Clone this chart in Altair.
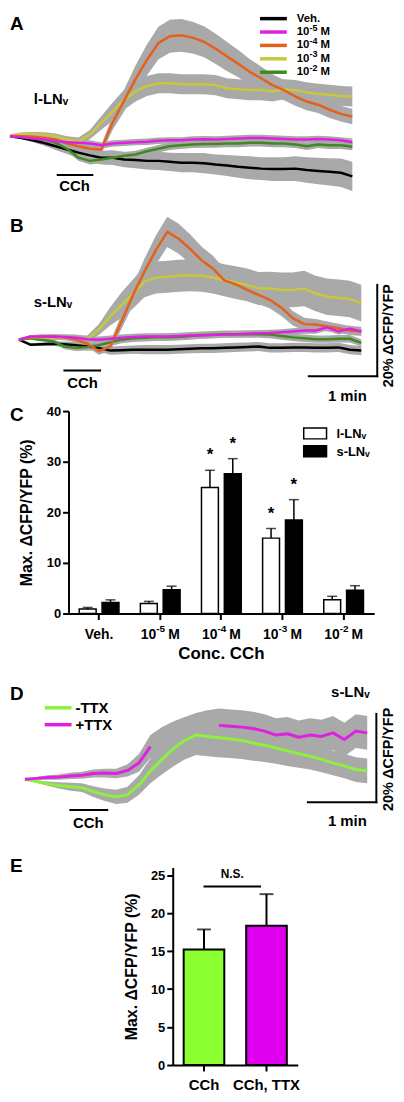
import altair as alt
import pandas as pd

FONT = "Liberation Sans"
W = 388
BAND = "#a9a9a9"

# time axis of the traces (s)
T = list(range(0, 301, 10))

# ---------------- Panel A : l-LNv traces (% dCFP/YFP) ----------------
A_VEH = [0, -0.4, -0.9, -1.5, -2.2, -2.9, -3.6, -4.2, -4.7, -4.7, -5.1, -5.2, -5.4, -5.4, -5.6, -5.8,
         -5.8, -5.9, -6.2, -6.4, -6.7, -6.9, -7.1, -7.2, -7.2, -7.1, -7.4, -7.6, -7.8, -8.0, -8.8]
A_VEH_SEM = [0, 0.2, 0.4, 0.6, 0.8, 1.0, 1.2, 1.4, 1.5, 1.6, 1.7, 1.8, 1.9, 2.0, 2.0, 2.1,
             2.1, 2.2, 2.2, 2.3, 2.4, 2.5, 2.5, 2.6, 2.6, 2.7, 2.8, 2.9, 3.0, 3.1, 3.2]
A_M5 = [0, -0.2, -0.5, -0.7, -1.1, -1.3, -1.45, -1.6, -2.0, -1.6, -1.45, -1.3, -1.2, -1.0, -0.9, -0.9,
        -0.7, -0.65, -0.7, -0.6, -0.5, -0.4, -0.4, -0.5, -0.6, -0.7, -0.7, -0.6, -0.7, -0.9, -1.3]
A_M5_SEM = [0, 0.2, 0.3, 0.4, 0.5, 0.6, 0.6, 0.7, 0.7, 0.7, 0.7, 0.7, 0.7, 0.7, 0.7, 0.7,
            0.7, 0.7, 0.7, 0.7, 0.7, 0.7, 0.7, 0.7, 0.7, 0.7, 0.7, 0.7, 0.7, 0.7, 0.8]
A_M4 = [0, 0, -0.1, -0.4, -0.7, -1.6, -2.2, -2.75, -2.9, 3.0, 7.8, 12.5, 16.7, 20.4, 21.9, 22.1,
        21.6, 20.7, 19.2, 17.5, 15.9, 14.1, 12.7, 11.2, 10.1, 8.7, 7.6, 6.9, 5.8, 4.9, 4.3]
A_M4_SEM = [0.2, 0.3, 0.4, 0.5, 0.6, 0.7, 0.8, 0.9, 1.0, 1.6, 2.4, 3.0, 3.4, 3.6, 3.6, 3.6,
            3.5, 3.4, 3.3, 3.2, 3.0, 2.8, 2.6, 2.4, 2.2, 2.0, 1.9, 1.8, 1.8, 1.7, 1.7]
A_M3 = [0.15, 0.5, 0.5, 0.35, 0, -0.7, -1.1, 0.35, 2.9, 5.4, 8.0, 9.8, 11.0, 11.6, 11.6, 11.4,
        11.4, 11.4, 11.2, 10.5, 10.3, 10.1, 10.1, 9.8, 10.3, 10.1, 9.6, 9.3, 9.1, 8.8, 8.7]
A_M3_SEM = [0.3, 0.3, 0.4, 0.5, 0.6, 0.7, 0.8, 1.0, 1.5, 2.0, 2.2, 2.2, 2.2, 2.2, 2.2, 2.2,
            2.2, 2.2, 2.2, 2.2, 2.2, 2.2, 2.2, 2.2, 2.2, 2.2, 2.2, 2.2, 2.2, 2.2, 2.2]
A_M2 = [0, -0.15, -0.4, -0.7, -1.45, -2.75, -4.7, -5.4, -5.1, -4.7, -4.3, -4.0, -3.3, -2.75, -2.2, -2.0,
        -1.8, -1.7, -1.7, -1.6, -1.6, -1.45, -1.45, -1.6, -1.6, -1.8, -2.2, -1.8, -2.0, -2.0, -2.3]
A_M2_SEM = [0.1, 0.2, 0.3, 0.4, 0.5, 0.6, 0.7, 0.8, 0.8, 0.8, 0.8, 0.8, 0.8, 0.8, 0.8, 0.8,
            0.8, 0.8, 0.8, 0.8, 0.8, 0.8, 0.8, 0.8, 0.8, 0.8, 0.8, 0.8, 0.8, 0.8, 0.8]

# ---------------- Panel B : s-LNv traces ----------------
B_VEH = [0, -1.1, -1.0, -0.9, -1.0, -1.2, -1.5, -1.8, -2.4, -2.3, -2.2, -2.2, -2.2, -2.2, -2.1, -2.0,
         -1.9, -1.9, -1.8, -1.7, -1.6, -1.5, -1.8, -1.8, -1.7, -1.7, -1.8, -1.8, -1.7, -2.2, -2.4]
B_VEH_SEM = [0, 0.3, 0.4, 0.5, 0.6, 0.7, 0.8, 0.8, 0.9, 0.9, 0.9, 1.0, 1.0, 1.0, 1.0, 1.0,
             1.0, 1.0, 1.0, 1.0, 1.0, 1.0, 1.0, 1.0, 1.0, 1.0, 1.0, 1.0, 1.0, 1.0, 1.0]
B_M5 = [0, 0.7, 0.7, 0.7, 0.6, 0.4, 0.1, 0.0, 0.2, 0.4, 0.6, 0.7, 0.7, 0.7, 0.8, 0.9,
        0.9, 1.0, 1.1, 1.2, 1.3, 1.4, 1.45, 1.6, 1.8, 2.0, 2.0, 2.7, 1.8, 2.4, 1.8]
B_M5_SEM = [0, 0.3, 0.4, 0.5, 0.6, 0.7, 0.7, 0.7, 0.7, 0.7, 0.7, 0.7, 0.7, 0.7, 0.7, 0.7,
            0.7, 0.7, 0.7, 0.7, 0.7, 0.7, 0.7, 0.7, 0.7, 0.7, 0.7, 0.7, 0.7, 0.7, 0.7]
B_M4 = [0, 0.5, 0.7, 0.65, 0.5, 0, -0.9, -2.5, -1.5, 4.0, 9.8, 14.9, 19.6, 23.6, 22.1, 19.9,
        17.4, 15.6, 13.0, 12.1, 10.9, 9.8, 8.7, 7.0, 4.7, 3.4, 3.3, 2.9, 2.5, 2.0, 1.8]
B_M4_SEM = [0.3, 0.4, 0.4, 0.5, 0.5, 0.6, 0.7, 0.8, 1.0, 1.6, 2.2, 2.8, 3.2, 3.3, 3.3, 3.2,
            3.0, 2.8, 2.6, 2.4, 2.2, 2.0, 1.9, 1.8, 1.6, 1.4, 1.2, 1.1, 1.0, 1.0, 1.0]
B_M3 = [0, 0.5, 0.6, 0.5, 0.35, 0.2, 0.2, 2.2, 5.1, 7.6, 10.0, 12.7, 13.6, 13.8, 14.0, 14.1,
        14.0, 13.6, 13.0, 12.5, 12.0, 11.2, 11.2, 10.9, 10.9, 11.2, 10.1, 9.4, 9.2, 8.9, 8.0]
B_M3_SEM = [0.3, 0.4, 0.4, 0.5, 0.5, 0.6, 0.7, 1.2, 2.0, 2.8, 3.2, 3.4, 3.5, 3.5, 3.5, 3.5,
            3.5, 3.5, 3.5, 3.6, 3.6, 3.6, 3.7, 3.8, 3.8, 3.9, 3.9, 4.0, 4.0, 4.0, 4.0]
B_M2 = [0, 0.3, 0.0, -0.4, -1.5, -1.8, -1.6, -1.2, -0.6, 0.0, 0.3, 0.4, 0.5, 0.5, 0.6, 0.8,
        1.0, 1.1, 1.2, 1.2, 1.2, 1.2, 1.1, 0.8, 0.5, 0.3, 0.1, 0.1, 0.2, 0.2, -0.7]
B_M2_SEM = [0.1, 0.3, 0.4, 0.5, 0.6, 0.7, 0.8, 0.8, 0.8, 0.8, 0.8, 0.8, 0.8, 0.8, 0.8, 0.8,
            0.8, 0.8, 0.8, 0.8, 0.8, 0.8, 0.8, 0.8, 0.8, 0.8, 0.8, 0.8, 0.8, 0.8, 0.8]

# legend / category labels: (base, superscript, suffix)
SERIES_LABELS = [("Veh.", "", ""), ("10", "-5", "M"), ("10", "-4", "M"), ("10", "-3", "M"), ("10", "-2", "M")]
SERIES_COLORS = ["#000000", "#e020e0", "#e5601a", "#c8c83c", "#3f8a1e"]
DRAW_ORDER = [0, 4, 3, 2, 1]

# ---------------- Panel C : max response bars ----------------
CONDS = ["Veh.", "1e-5", "1e-4", "1e-3", "1e-2"]
CELLS = ["l-LNᵥ", "s-LNᵥ"]
L_MEAN = [0.9, 2.0, 24.9, 14.9, 2.7]
L_SEM = [0.3, 0.4, 3.4, 1.9, 0.7]
S_MEAN = [2.2, 4.7, 27.6, 18.5, 4.6]
S_SEM = [0.5, 0.7, 3.0, 4.0, 0.9]
L_STAR = ["", "", "*", "*", ""]
S_STAR = ["", "", "*", "*", ""]

# ---------------- Panel D : s-LNv +/- TTX traces ----------------
D_NOTTX = [0, -0.5, -1.0, -1.4, -1.7, -1.9, -2.8, -3.5, -4.0, -3.5, -1.3, 1.9, 4.5, 6.9, 8.8, 10.0,
           9.7, 9.4, 9.1, 8.8, 8.2, 7.7, 7.1, 6.4, 5.8, 5.2, 4.5, 3.7, 3.0, 2.2, 1.9]
D_NOTTX_SEM = [0, 0.3, 0.5, 0.7, 0.9, 1.0, 1.2, 1.4, 1.6, 1.8, 2.2, 2.8, 3.4, 4.0, 4.3, 4.5,
               4.5, 4.4, 4.3, 4.2, 4.0, 3.8, 3.6, 3.4, 3.2, 3.0, 2.9, 2.8, 2.8, 2.8, 2.8]
D_TTX = [0, 0.2, 0.4, 0.5, 0.75, 0.9, 1.3, 1.4, 1.3, 2.0, 3.7, 7.4, 8.8, 9.8, 10.6, 11.3,
         11.8, 12.2, 12.0, 11.8, 11.5, 10.9, 10.0, 10.3, 9.5, 10.0, 9.7, 10.5, 9.0, 10.9, 10.5]
D_TTX_SEM = [0, 0.3, 0.5, 0.6, 0.7, 0.8, 0.9, 1.0, 1.1, 1.4, 2.0, 2.6, 3.0, 3.3, 3.5, 3.7,
             3.8, 3.8, 3.8, 3.8, 3.8, 3.8, 3.8, 3.8, 3.8, 3.8, 3.8, 3.8, 3.8, 3.8, 3.8]
D_TTX_HIDDEN = (115, 165)   # stretch where the +TTX trace is not visible
D_NAMES = ["-TTX", "+TTX"]
D_COLORS = ["#8cf03c", "#e020e0"]

# ---------------- Panel E ----------------
E_CONDS = ["CCh", "CCh, TTX"]
E_MEAN = [15.2, 18.35]
E_SEM = [2.65, 4.15]
E_COLORS = ["#8cff32", "#e000f0"]

ONE = pd.DataFrame({"k": [0]})


def text(s, x, y, size, align="left", baseline="alphabetic", angle=0):
    return alt.Chart(ONE).mark_text(
        text=s, font=FONT, fontWeight="bold", fontSize=size, align=align,
        baseline=baseline, angle=angle, color="black"
    ).encode(x=alt.value(x), y=alt.value(y))


def hrule(x1, x2, y, color="black", w=2.0):
    return alt.Chart(ONE).mark_rule(color=color, strokeWidth=w).encode(
        x=alt.value(x1), x2=alt.value(x2), y=alt.value(y))


def sup_label(lbl, x, y, size, sup_size):
    base, sup, suf = lbl
    out = [text(base, x, y, size, baseline="middle")]
    if sup:
        wb = 0.556 * size * len(base)
        out.append(text(sup, x + wb, y - 0.38 * size, sup_size, baseline="middle"))
        ws = (0.333 + 0.556) * sup_size
        out.append(text(suf, x + wb + ws + 0.28 * size, y, size, baseline="middle"))
    return out


def trace_layers(series, xs, ys, lw=2.5, hidden=None):
    bands, lines = [], []
    for name, color, mean, sem in series:
        df = pd.DataFrame({"t": T, "m": mean, "s": sem})
        df["lo"] = df["m"] - df["s"]
        df["hi"] = df["m"] + df["s"]
        bands.append(alt.Chart(df).mark_area(color=BAND, opacity=1).encode(
            x=alt.X("t:Q", scale=xs, axis=None),
            y=alt.Y("lo:Q", scale=ys, axis=None),
            y2="hi:Q"))
        ld = df.copy()
        ld["seg"] = 0
        if hidden is not None and name == hidden[0]:
            a, b = hidden[1]
            ld = ld[(ld["t"] < a) | (ld["t"] > b)].copy()
            ld["seg"] = (ld["t"] > b).astype(int)
        lines.append(alt.Chart(ld).mark_line(color=color, strokeWidth=lw, strokeJoin="round").encode(
            x=alt.X("t:Q", scale=xs, axis=None),
            y=alt.Y("m:Q", scale=ys, axis=None),
            detail="seg:N"))
    return bands + lines


def cch_bar(xs, t0, t1, ypx):
    df = pd.DataFrame({"t0": [t0], "t1": [t1]})
    return alt.Chart(df).mark_rule(color="black", strokeWidth=2).encode(
        x=alt.X("t0:Q", scale=xs, axis=None), x2="t1:Q", y=alt.value(ypx))


def scale_bar(xs, ys, t_end, v_bottom, dt=60, dv=20):
    df = pd.DataFrame({"ta": [t_end - dt], "tb": [t_end], "va": [v_bottom], "vb": [v_bottom + dv]})
    h = alt.Chart(df).mark_rule(color="black", strokeWidth=2, strokeCap="square").encode(
        x=alt.X("ta:Q", scale=xs, axis=None), x2="tb:Q",
        y=alt.Y("va:Q", scale=ys, axis=None))
    v = alt.Chart(df).mark_rule(color="black", strokeWidth=2, strokeCap="square").encode(
        x=alt.X("tb:Q", scale=xs, axis=None),
        y=alt.Y("va:Q", scale=ys, axis=None), y2="vb:Q")
    return [h, v]


# ===== Panel A =====
xsA = alt.Scale(domain=[0, 300], range=[0, 345])
ysA = alt.Scale(domain=[-10, 25], range=[168, 7])
A_DATA = [A_VEH, A_M5, A_M4, A_M3, A_M2]
A_SEMS = [A_VEH_SEM, A_M5_SEM, A_M4_SEM, A_M3_SEM, A_M2_SEM]
serA = [(str(i), SERIES_COLORS[i], A_DATA[i], A_SEMS[i]) for i in DRAW_ORDER]
layersA = trace_layers(serA, xsA, ysA)
legend_y = [3.5, 17, 30.5, 44, 57.5]
for i, lbl in enumerate(SERIES_LABELS):
    layersA.append(hrule(252, 279, legend_y[i], SERIES_COLORS[i], 3.5))
    layersA += sup_label(lbl, 289, legend_y[i], 11.5, 9)
layersA += [
    text("A", 0, 15, 19),
    text("l-LNᵥ", 24, 85, 15, baseline="middle"),
    cch_bar(xsA, 41, 73, 161),
    text("CCh", 65, 172.5, 15, align="center", baseline="middle"),
]
panelA = alt.layer(*layersA).properties(width=W, height=182)

# ===== Panel B =====
xsB = alt.Scale(domain=[0, 300], range=[9, 354])
ysB = alt.Scale(domain=[-10, 25], range=[191, 30])
B_DATA = [B_VEH, B_M5, B_M4, B_M3, B_M2]
B_SEMS = [B_VEH_SEM, B_M5_SEM, B_M4_SEM, B_M3_SEM, B_M2_SEM]
serB = [(str(i), SERIES_COLORS[i], B_DATA[i], B_SEMS[i]) for i in DRAW_ORDER]
layersB = trace_layers(serB, xsB, ysB)
layersB += scale_bar(xsB, ysB, 314, -8)
layersB += [
    text("B", 0, 37, 19),
    text("s-LNᵥ", 24, 107, 15, baseline="middle"),
    cch_bar(xsB, 39, 72, 176),
    text("CCh", 73, 189, 15, align="center", baseline="middle"),
    text("1 min", 340, 202, 15, align="center", baseline="middle"),
    text("20% ΔCFP/YFP", 382, 141, 14.5, align="center", baseline="middle", angle=270),
]
panelB = alt.layer(*layersB).properties(width=W, height=210)

# ===== Panel C =====
rows = []
for i, c in enumerate(CONDS):
    rows.append(dict(cond=c, cell=CELLS[0], mean=L_MEAN[i], sem=L_SEM[i], star=L_STAR[i]))
    rows.append(dict(cond=c, cell=CELLS[1], mean=S_MEAN[i], sem=S_SEM[i], star=S_STAR[i]))
dfc = pd.DataFrame(rows)
dfc["hi"] = dfc["mean"] + dfc["sem"]

axC_x = alt.Axis(title="", labels=False, offset=-51)
axC_y = alt.Axis(title="Max. ΔCFP/YFP (%)", values=[0, 10, 20, 30, 40], offset=-59,
                 labelPadding=2, titlePadding=12, labelFontSize=13, titleFontSize=16)
scC_x = alt.Scale(domain=CONDS, range=[59, 367], paddingInner=0.35, paddingOuter=0.175)
scC_xo = alt.Scale(domain=CELLS, paddingInner=0.26, paddingOuter=0)
scC_y = alt.Scale(domain=[0, 40], range=[211, 7])
xC = alt.X("cond:N", sort=CONDS, scale=scC_x, axis=axC_x)
xoC = alt.XOffset("cell:N", sort=CELLS, scale=scC_xo)

barsC = alt.Chart(dfc).mark_bar(stroke="black", strokeWidth=1.5).encode(
    x=xC, xOffset=xoC,
    y=alt.Y("mean:Q", scale=scC_y, axis=axC_y),
    fill=alt.Fill("cell:N", scale=alt.Scale(domain=CELLS, range=["white", "black"]), legend=None))
errC = alt.Chart(dfc).mark_rule(color="black", strokeWidth=1.5).encode(
    x=xC, xOffset=xoC, y=alt.Y("mean:Q", scale=scC_y, axis=axC_y), y2="hi:Q")
capC = alt.Chart(dfc).mark_tick(color="black", thickness=1.5, size=10).encode(
    x=xC, xOffset=xoC, y=alt.Y("hi:Q", scale=scC_y, axis=axC_y))
starC = alt.Chart(dfc).mark_text(font=FONT, fontWeight="bold", fontSize=17, baseline="middle",
                                 dy=-15, color="black").encode(
    x=xC, xOffset=xoC, y=alt.Y("hi:Q", scale=scC_y, axis=axC_y), text="star:N")

# category labels with real superscripts
lab = pd.DataFrame({"cond": CONDS,
                    "base": [l[0] for l in SERIES_LABELS],
                    "sup": [l[1] for l in SERIES_LABELS],
                    "suf": [l[2] for l in SERIES_LABELS]})
lab_plain = lab[lab["sup"] == ""]
lab_sup = lab[lab["sup"] != ""]
LAB_Y = 233


def cat_text(df, field, dx, dy, size, align):
    return alt.Chart(df).mark_text(font=FONT, fontWeight="bold", fontSize=size, align=align,
                                   baseline="middle", dx=dx, dy=dy, color="black").encode(
        x=xC, y=alt.value(LAB_Y), text=f"{field}:N")


labC = [
    cat_text(lab_plain, "base", 0, 0, 14, "center"),
    cat_text(lab_sup, "base", -4, 0, 14, "right"),
    cat_text(lab_sup, "sup", -4, -6, 10, "left"),
    cat_text(lab_sup, "suf", 8, 0, 14, "left"),
    text("Conc. CCh", 213, 252, 17, align="center", baseline="middle"),
]
legC = [
    alt.Chart(ONE).mark_rect(fill="white", stroke="black", strokeWidth=1.5).encode(
        x=alt.value(296), x2=alt.value(319), y=alt.value(24), y2=alt.value(35)),
    alt.Chart(ONE).mark_rect(fill="black", stroke="black", strokeWidth=1.5).encode(
        x=alt.value(296), x2=alt.value(319), y=alt.value(42), y2=alt.value(53)),
    text(CELLS[0], 329, 30, 13, baseline="middle"),
    text(CELLS[1], 329, 48, 13, baseline="middle"),
    text("C", 0, 17, 19),
]
panelC = alt.layer(barsC, errC, capC, starC, *labC, *legC).properties(width=W, height=262)

# ===== Panel D =====
xsD = alt.Scale(domain=[0, 300], range=[15, 360])
ysD = alt.Scale(domain=[-10, 20], range=[160.5, 27])
serD = [(D_NAMES[0], D_COLORS[0], D_NOTTX, D_NOTTX_SEM),
        (D_NAMES[1], D_COLORS[1], D_TTX, D_TTX_SEM)]
layersD = trace_layers(serD, xsD, ysD, lw=3, hidden=(D_NAMES[1], D_TTX_HIDDEN))
layersD += scale_bar(xsD, ysD, 308, -5.2)
layersD += [
    text("D", 0, 36, 19),
    hrule(35, 62, 44, D_COLORS[0], 3.5),
    hrule(35, 62, 61, D_COLORS[1], 3.5),
    text(D_NAMES[0], 66, 44, 15, baseline="middle"),
    text(D_NAMES[1], 66, 61, 15, baseline="middle"),
    text("s-LNᵥ", 343, 28, 15, align="center", baseline="middle"),
    cch_bar(xsD, 39, 73, 147),
    text("CCh", 79, 160, 15, align="center", baseline="middle"),
    text("1 min", 340, 158, 15, align="center", baseline="middle"),
    text("20% ΔCFP/YFP", 382, 96, 14.5, align="center", baseline="middle", angle=270),
]
panelD = alt.layer(*layersD).properties(width=W, height=178)

# ===== Panel E =====
dfe = pd.DataFrame({"cond": E_CONDS, "mean": E_MEAN, "sem": E_SEM})
dfe["hi"] = dfe["mean"] + dfe["sem"]
axE_x = alt.Axis(title="", labelAngle=0, offset=-28, labelPadding=7, labelFontSize=15)
axE_y = alt.Axis(title="Max. ΔCFP/YFP (%)", values=[0, 5, 10, 15, 20, 25], offset=-164,
                 labelPadding=2, titlePadding=11, labelFontSize=13, titleFontSize=16)
scE_x = alt.Scale(domain=E_CONDS, range=[164, 290], paddingInner=0.35, paddingOuter=0.175)
scE_y = alt.Scale(domain=[0, 25], range=[226, 27])
xE = alt.X("cond:N", sort=E_CONDS, scale=scE_x, axis=axE_x)
barsE = alt.Chart(dfe).mark_bar(stroke="black", strokeWidth=2).encode(
    x=xE, y=alt.Y("mean:Q", scale=scE_y, axis=axE_y),
    fill=alt.Fill("cond:N", scale=alt.Scale(domain=E_CONDS, range=E_COLORS), legend=None))
errE = alt.Chart(dfe).mark_rule(color="black", strokeWidth=2).encode(
    x=xE, y=alt.Y("mean:Q", scale=scE_y, axis=axE_y), y2="hi:Q")
capE = alt.Chart(dfe).mark_tick(color="black", thickness=2, size=14).encode(
    x=xE, y=alt.Y("hi:Q", scale=scE_y, axis=axE_y))
nsE = alt.Chart(ONE).mark_rule(color="black", strokeWidth=2).encode(
    x=alt.value(195), x2=alt.value(253), y=alt.datum(23.5))
nsT = alt.Chart(ONE).mark_text(text="N.S.", font=FONT, fontWeight="bold", fontSize=12,
                               align="center", baseline="middle", color="black").encode(
    x=alt.value(224), y=alt.datum(25.1))
panelE = alt.layer(barsE, errE, capE, nsE, nsT, text("E", 0, 31, 19)).properties(width=W, height=254)

chart = alt.vconcat(panelA, panelB, panelC, panelD, panelE, spacing=0, bounds="flush").resolve_scale(
    fill="independent"
).properties(
    padding=0
).configure_view(stroke=None).configure_axis(
    domainColor="black", tickColor="black", labelColor="black", titleColor="black",
    labelFont=FONT, titleFont=FONT, labelFontWeight="bold", titleFontWeight="bold",
    grid=False, domainWidth=2, tickWidth=2, tickSize=6
)

chart.save("out.html", embed_options={"renderer": "svg", "actions": False})
